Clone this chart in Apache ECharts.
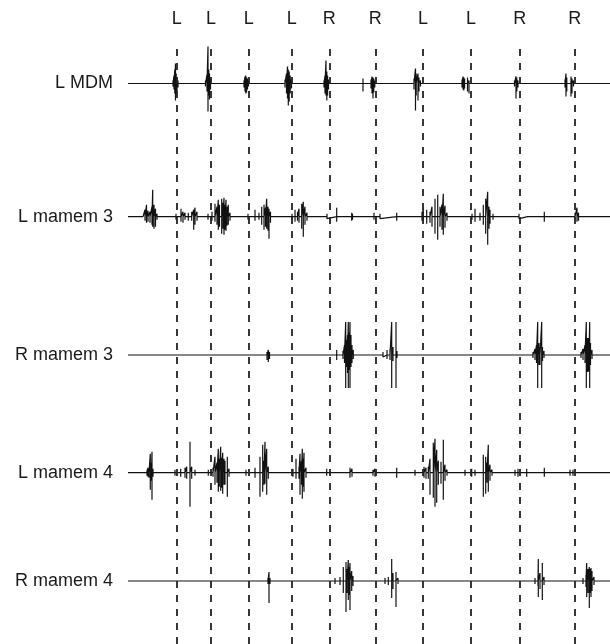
<!DOCTYPE html>
<html>
<head>
<meta charset="utf-8">
<script src="https://cdn.jsdelivr.net/npm/echarts@6/dist/echarts.min.js"></script>
<style>html,body{margin:0;padding:0;background:#fff}#c{width:610px;height:644px}</style>
</head>
<body>
<div id="c"></div>
<script>
// ---- DATA ----
// time axis in ms; spikes are [time ms, upward amplitude, downward amplitude] (a.u.)
const channelNames = ['L MDM', 'L mamem 3', 'R mamem 3', 'L mamem 4', 'R mamem 4'];
const eventTimes = [487, 830, 1207, 1637, 2013, 2473, 2950, 3430, 3917, 4467];
const eventSides = ['L', 'L', 'L', 'L', 'R', 'R', 'L', 'L', 'R', 'R'];

const spikesLMDM = [
  [20,2,1],[40,1,2],[70,2,1],[130,1,1],
  [450,3,3],[460,8,6],[468,14,10],[475,20,17],[482,10,12],[490,6,8],[500,3,4],
  [775,3,3],[790,9,8],[800,37,28],[808,14,12],[815,10,16],[825,5,6],
  [1100,1,1],
  [1160,3,4],[1170,7,8],[1178,8,10],[1186,6,9],[1195,5,6],[1205,3,3],
  [1500,1,1],
  [1570,4,4],[1585,10,10],[1595,17,15],[1603,14,22],[1612,12,18],[1622,8,10],[1635,4,5],[1650,2,2],
  [1960,3,4],[1970,8,10],[1980,23,12],[1988,12,17],[1996,8,12],[2005,4,6],
  [2200,1,1],[2350,5,8],
  [2430,4,5],[2440,7,10],[2450,6,15],[2458,5,9],[2468,3,4],
  [2700,1,1],
  [2860,5,6],[2875,15,27],[2882,10,12],[2900,10,17],[2910,6,8],[2925,3,3],
  [3200,1,1],
  [3340,4,4],[3350,7,6],[3358,6,7],[3366,5,5],[3395,6,8],[3410,3,10],
  [3700,1,1],
  [3865,3,3],[3880,7,15],[3888,6,8],[3900,3,4],
  [4200,1,1],
  [4370,4,4],[4380,10,13],[4388,6,8],[4430,7,13],[4440,5,10],[4455,3,3],
  [4700,1,1]
];

const spikesLMamem3 = [
  [150,2,2],[170,7,4],[185,12,6],[200,6,5],[220,5,6],[240,10,8],[247,27,10],[260,12,12],[275,8,10],[290,3,3],
  [480,3,3],[530,8,5],[550,5,6],[570,4,3],[603,4,4],[637,5,4],[657,7,13],[670,9,8],[690,5,4],[710,2,2],
  [800,3,3],[840,5,4],[870,13,5],[890,10,8],[903,17,13],[915,12,10],[937,18,17],[950,14,12],[960,19,18],[970,12,13],[980,17,14],[990,10,9],[1003,12,8],[1020,4,4],[1040,2,2],
  [1200,3,3],[1270,7,4],[1310,4,3],[1337,10,8],[1360,12,13],[1375,9,10],[1387,18,12],[1400,10,14],[1410,8,22],[1425,5,6],[1440,2,2],
  [1640,3,3],[1670,7,5],[1695,5,4],[1710,8,6],[1737,13,12],[1753,15,20],[1770,10,8],[1790,4,4],
  [1990,3,2],[2087,9,5],[2237,4,4],[2245,3,3],
  [2460,4,3],[2520,3,2],[2687,4,4],
  [2940,5,4],[2953,8,5],[2987,7,7],[3020,5,6],[3040,10,10],[3070,18,17],[3097,22,23],[3120,10,10],[3140,12,13],[3153,23,18],[3170,11,11],[3190,4,4],
  [3440,3,3],[3470,8,5],[3520,4,4],[3553,12,8],[3577,18,17],[3597,25,28],[3610,10,12],[3620,7,7],[3650,3,3],
  [3910,3,2],[3997,2,2],[4163,5,5],[4470,4,3],[4490,9,5],[4505,4,4],[4670,2,2]
];

const spikesRMamem3 = [
  [187,2,1],[470,2,2],[537,2,1],[820,2,2],[903,2,1],[987,2,2],[1170,2,2],[1287,2,1],
  [1390,3,5],[1403,5,7],[1415,3,4],
  [1620,2,2],[1687,2,1],[1987,2,2],[2087,5,5],
  [2150,4,4],[2165,10,8],[2177,33,33],[2185,15,12],[2195,20,18],[2203,33,33],[2212,22,15],[2220,33,33],[2230,20,12],[2240,10,8],[2253,5,4],
  [2550,3,2],[2590,5,4],[2620,6,5],[2637,33,33],[2650,8,6],[2680,33,33],[2690,4,3],
  [2953,2,2],[3120,2,1],[3470,2,2],
  [4050,3,3],[4070,6,5],[4085,10,8],[4097,33,33],[4110,12,10],[4120,8,10],[4137,33,33],[4145,8,6],[4160,4,3],
  [4530,3,3],[4550,6,5],[4570,10,8],[4583,33,33],[4590,17,17],[4600,17,17],[4610,17,16],[4617,33,33],[4625,12,10],[4640,5,4],[4660,2,2]
];

const spikesLMamem4 = [
  [20,2,2],[50,2,2],[80,2,1],[120,2,2],
  [190,3,3],[200,5,4],[210,4,5],[223,19,17],[235,10,8],[240,21,27],[250,4,4],
  [470,3,3],[527,4,4],[570,5,5],[587,6,6],[620,31,34],[637,6,6],[670,3,3],
  [803,3,3],[850,5,4],[870,16,12],[890,10,10],[903,24,19],[913,14,14],[927,26,18],[937,15,15],[947,20,21],[960,14,12],[970,12,12],[993,16,24],[1010,4,4],
  [1180,3,3],[1270,5,5],[1320,16,24],[1347,28,19],[1360,12,12],[1370,31,11],[1387,24,22],[1403,6,6],[1420,2,2],
  [1650,4,4],[1680,14,6],[1710,6,6],[1720,19,22],[1735,12,12],[1743,24,26],[1753,14,14],[1760,20,19],[1780,5,5],
  [1987,4,3],[2087,2,2],[2220,5,5],[2240,4,4],
  [2450,3,3],[2470,4,4],[2687,5,5],[2870,3,3],[2960,6,5],[2980,5,6],
  [3003,6,6],[3020,14,22],[3053,30,25],[3070,34,34],[3087,23,30],[3103,12,12],[3130,11,11],[3153,33,27],[3170,8,8],[3190,3,3],
  [3370,3,3],[3437,4,4],[3470,3,3],[3553,18,24],[3577,16,21],[3590,10,10],[3603,28,19],[3620,8,8],[3640,3,3],
  [3870,3,3],[3900,4,4],[3987,4,4],[4163,5,4],[4370,2,2],[4420,3,3],[4450,3,3],[4670,1,1]
];

const spikesRMamem4 = [
  [20,2,2],[60,2,1],[100,2,2],[170,2,1],[250,2,2],[300,1,1],
  [780,1,1],[900,1,1],
  [1400,3,3],[1410,9,22],[1420,3,3],
  [1800,1,1],
  [2070,3,3],[2120,4,4],[2153,14,12],[2180,19,31],[2190,12,12],[2203,21,19],[2213,14,14],[2220,18,29],[2237,10,10],[2250,5,5],
  [2570,3,3],[2603,4,4],[2637,22,17],[2650,8,8],[2680,9,26],[2700,3,3],
  [2950,2,2],[3120,1,1],[3450,2,2],[3600,1,1],
  [4070,3,3],[4100,5,5],[4103,22,16],[4120,8,8],[4143,18,19],[4160,4,4],[4180,2,2],
  [4550,3,3],[4580,6,6],[4587,18,16],[4600,12,12],[4613,14,27],[4625,12,12],[4630,13,16],[4640,10,10],[4660,4,4],[4690,2,2]
];

const channelSpikes = [spikesLMDM, spikesLMamem3, spikesRMamem3, spikesLMamem4, spikesRMamem4];

// ---- LAYOUT ----
const T_MIN = 0, T_MAX = 4820;
const baselinesPx = [83.5, 216.7, 355, 472.7, 581];
const halfH = 60;
const plotLeft = 128;
const fontFam = '"Liberation Sans", Arial, Helvetica, sans-serif';

function traceData(spikes) {
  const s = spikes.slice().sort((a, b) => a[0] - b[0]);
  const pts = [[T_MIN, 0]];
  s.forEach(([t, up, down]) => {
    pts.push([t, 0], [t, up], [t, -down], [t, 0]);
  });
  pts.push([T_MAX, 0]);
  return pts;
}

const grids = [], xAxes = [], yAxes = [], series = [];
channelNames.forEach((name, i) => {
  grids.push({ left: plotLeft, right: 0, top: baselinesPx[i] - halfH, height: halfH * 2 });
  xAxes.push({ type: 'value', gridIndex: i, min: T_MIN, max: T_MAX, show: false });
  yAxes.push({
    type: 'value', gridIndex: i, min: -halfH, max: halfH, interval: halfH,
    axisLine: { show: false }, axisTick: { show: false }, splitLine: { show: false },
    axisLabel: {
      show: true, margin: 15, color: '#1a1a1a', fontSize: 18, fontFamily: fontFam,
      formatter: v => (v === 0 ? name : '')
    }
  });
  series.push({
    type: 'line', xAxisIndex: i, yAxisIndex: i, data: traceData(channelSpikes[i]),
    showSymbol: false, symbol: 'none', silent: true,
    lineStyle: { color: '#111', width: 1.2, join: 'bevel' }, z: 3
  });
});

// overlay grid for dashed event lines
const gi = channelNames.length;
grids.push({ left: plotLeft, right: 0, top: 43, bottom: 0 });
xAxes.push({ type: 'value', gridIndex: gi, min: T_MIN, max: T_MAX, show: false });
yAxes.push({ type: 'value', gridIndex: gi, min: 0, max: 1, show: false });
series.push({
  type: 'line', xAxisIndex: gi, yAxisIndex: gi, data: [], silent: true,
  markLine: {
    silent: true, symbol: ['none', 'none'], animation: false,
    lineStyle: { color: '#222', width: 1.8, type: [7, 7] },
    label: { show: true, position: 'end', formatter: '{b}', color: '#1a1a1a', fontSize: 18, fontFamily: fontFam, distance: 15 },
    data: eventTimes.map((t, k) => ({ xAxis: t, name: eventSides[k] }))
  },
  z: 2
});

const chart = echarts.init(document.getElementById('c'), null, { renderer: 'canvas' });
chart.setOption({
  animation: false,
  backgroundColor: '#fff',
  grid: grids, xAxis: xAxes, yAxis: yAxes, series: series
});
</script>
</body>
</html>
